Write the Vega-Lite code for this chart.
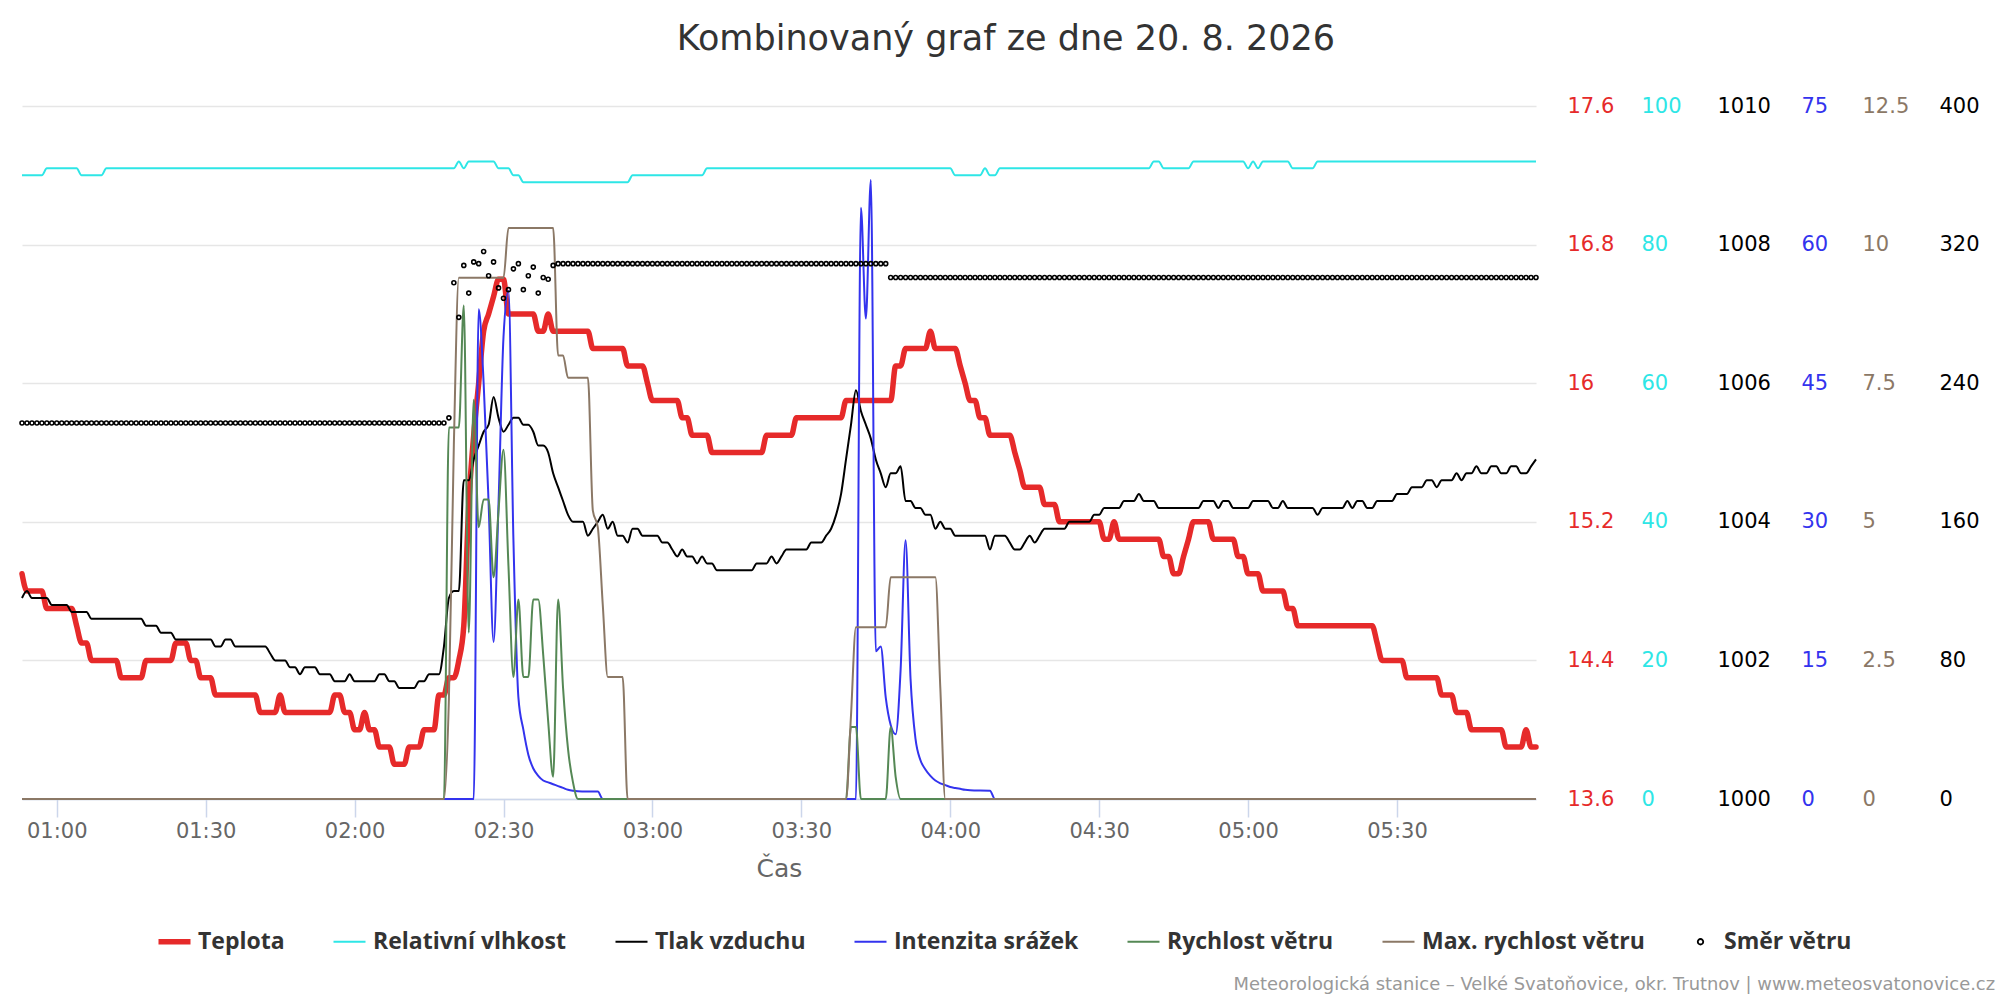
{
  "$schema": "https://vega.github.io/schema/vega-lite/v6.json",
  "background": "white",
  "padding": {"left": 16, "top": 22, "right": 0, "bottom": 0},
  "autosize": {"type": "pad"},
  "config": {
    "view": {"stroke": null},
    "concat": {"spacing": 0},
    "axis": {"labelFont": "DejaVu Sans", "titleFont": "DejaVu Sans"},
    "title": {"font": "DejaVu Sans"}
  },
  "title": {"text": "Kombinovaný graf ze dne 20. 8. 2026", "fontSize": 35, "fontWeight": "normal", "color": "#333333", "anchor": "middle", "frame": "bounds", "offset": 38},
  "vconcat": [
    {
      "width": 1514,
      "height": 693,
      "title": {"text": "Meteorologická stanice – Velké Svatoňovice, okr. Trutnov | www.meteosvatonovice.cz", "orient": "bottom", "anchor": "end", "frame": "bounds", "fontSize": 17.9, "fontWeight": "normal", "color": "#999999", "offset": 95, "dx": 16},
      "resolve": {"scale": {"y": "independent"}, "axis": {"y": "independent"}},
      "encoding": {
        "x": {
          "field": "m", "type": "quantitative", "title": "Čas",
          "scale": {"domain": [53, 358], "nice": false, "zero": false},
          "axis": {"values": [60, 90, 120, 150, 180, 210, 240, 270, 300, 330], "labelExpr": "utcFormat(datum.value * 60000, '%H:%M')", "grid": false,
            "labelFontSize": 21, "labelColor": "#666666", "labelPadding": 3, "labelFlush": false, "labelOverlap": false,
            "domainColor": "#ccd6eb", "domainWidth": 1.5, "tickColor": "#ccd6eb", "tickWidth": 1.5, "tickSize": 18,
            "titleFontSize": 25, "titleFontWeight": "normal", "titleColor": "#666666", "titlePadding": 15}
        }
      },
      "layer": [
        {
          "data": {"values": [
            {"m":53,"v":14.9},{"m":54,"v":14.8},{"m":57,"v":14.8},{"m":58,"v":14.7},{"m":63,"v":14.7},{"m":64,"v":14.6},{"m":65,"v":14.5},{"m":66,"v":14.5},{"m":67,"v":14.4},{"m":72,"v":14.4},{"m":73,"v":14.3},{"m":77,"v":14.3},{"m":78,"v":14.4},{"m":83,"v":14.4},{"m":84,"v":14.5},{"m":86,"v":14.5},{"m":87,"v":14.4},{"m":88,"v":14.4},{"m":89,"v":14.3},{"m":91,"v":14.3},{"m":92,"v":14.2},{"m":100,"v":14.2},{"m":101,"v":14.1},{"m":104,"v":14.1},{"m":105,"v":14.2},{"m":106,"v":14.1},{"m":115,"v":14.1},{"m":116,"v":14.2},{"m":117,"v":14.2},{"m":118,"v":14.1},{"m":119,"v":14.1},{"m":120,"v":14.0},{"m":121,"v":14.0},{"m":122,"v":14.1},{"m":123,"v":14.0},{"m":124,"v":14.0},{"m":125,"v":13.9},{"m":127,"v":13.9},{"m":128,"v":13.8},{"m":130,"v":13.8},{"m":131,"v":13.9},{"m":133,"v":13.9},{"m":134,"v":14.0},{"m":136,"v":14.0},{"m":137,"v":14.2},{"m":138,"v":14.2},{"m":139,"v":14.3},{"m":140,"v":14.3},{"m":141,"v":14.4},{"m":142,"v":14.6},{"m":143,"v":15.3},{"m":144,"v":15.7},{"m":145,"v":16.0},{"m":146,"v":16.3},{"m":147,"v":16.4},{"m":148,"v":16.5},{"m":149,"v":16.6},{"m":150,"v":16.6},{"m":151,"v":16.4},{"m":156,"v":16.4},{"m":157,"v":16.3},{"m":158,"v":16.3},{"m":159,"v":16.4},{"m":160,"v":16.3},{"m":167,"v":16.3},{"m":168,"v":16.2},{"m":174,"v":16.2},{"m":175,"v":16.1},{"m":178,"v":16.1},{"m":179,"v":16.0},{"m":180,"v":15.9},{"m":185,"v":15.9},{"m":186,"v":15.8},{"m":187,"v":15.8},{"m":188,"v":15.7},{"m":191,"v":15.7},{"m":192,"v":15.6},{"m":202,"v":15.6},{"m":203,"v":15.7},{"m":208,"v":15.7},{"m":209,"v":15.8},{"m":218,"v":15.8},{"m":219,"v":15.9},{"m":228,"v":15.9},{"m":229,"v":16.1},{"m":230,"v":16.1},{"m":231,"v":16.2},{"m":235,"v":16.2},{"m":236,"v":16.3},{"m":237,"v":16.2},{"m":241,"v":16.2},{"m":242,"v":16.1},{"m":243,"v":16.0},{"m":244,"v":15.9},{"m":245,"v":15.9},{"m":246,"v":15.8},{"m":247,"v":15.8},{"m":248,"v":15.7},{"m":252,"v":15.7},{"m":253,"v":15.6},{"m":254,"v":15.5},{"m":255,"v":15.4},{"m":258,"v":15.4},{"m":259,"v":15.3},{"m":261,"v":15.3},{"m":262,"v":15.2},{"m":270,"v":15.2},{"m":271,"v":15.1},{"m":272,"v":15.1},{"m":273,"v":15.2},{"m":274,"v":15.1},{"m":282,"v":15.1},{"m":283,"v":15.0},{"m":284,"v":15.0},{"m":285,"v":14.9},{"m":286,"v":14.9},{"m":287,"v":15.0},{"m":288,"v":15.1},{"m":289,"v":15.2},{"m":292,"v":15.2},{"m":293,"v":15.1},{"m":297,"v":15.1},{"m":298,"v":15.0},{"m":299,"v":15.0},{"m":300,"v":14.9},{"m":302,"v":14.9},{"m":303,"v":14.8},{"m":307,"v":14.8},{"m":308,"v":14.7},{"m":309,"v":14.7},{"m":310,"v":14.6},{"m":325,"v":14.6},{"m":326,"v":14.5},{"m":327,"v":14.4},{"m":331,"v":14.4},{"m":332,"v":14.3},{"m":338,"v":14.3},{"m":339,"v":14.2},{"m":341,"v":14.2},{"m":342,"v":14.1},{"m":344,"v":14.1},{"m":345,"v":14.0},{"m":351,"v":14.0},{"m":352,"v":13.9},{"m":355,"v":13.9},{"m":356,"v":14.0},{"m":357,"v":13.9},{"m":358,"v":13.9}
          ]},
          "mark": {"type": "line", "interpolate": "monotone", "strokeWidth": 5.5, "strokeJoin": "round", "strokeCap": "round"},
          "encoding": {
            "y": {"field": "v", "type": "quantitative", "scale": {"domain": [13.6, 17.6], "nice": false, "zero": false},
              "axis": {"orient": "right", "offset": 31, "values": [13.6, 14.4, 15.2, 16, 16.8, 17.6], "labelExpr": "'' + datum.value", "title": null,
                "domain": false, "ticks": false, "tickSize": 0, "labelPadding": 0, "labelAlign": "left", "labelBaseline": "middle",
                "labelFontSize": 21, "labelColor": "#e62a2a", "labelOverlap": false, "labelFlush": false,
                "grid": true, "gridColor": "#e6e6e6", "gridWidth": 1.5}},
            "color": {"datum": "Teplota", "type": "nominal",
              "scale": {"domain": ["Teplota", "Relativní vlhkost", "Tlak vzduchu", "Intenzita srážek", "Rychlost větru", "Max. rychlost větru", "Směr větru"],
                        "range": ["#e62a2a", "#2ee6e6", "#000000", "#3333ee", "#558855", "#8b7866", "#000000"]},
              "legend": {"orient": "none", "legendX": 141, "legendY": 824, "direction": "horizontal", "title": null, "padding": 0,
                "symbolType": "stroke", "symbolSize": 1024, "symbolStrokeWidth": 2, "labelOffset": 12, "columnPadding": 44,
                "labelFont": "Open Sans", "labelFontWeight": "bold", "labelFontSize": 23, "labelColor": "#333333", "labelLimit": 500,
                "encode": {"symbols": {"update": {
                  "shape": {"signal": "datum.value === 'Směr větru' ? 'circle' : 'stroke'"},
                  "size": {"signal": "datum.value === 'Směr větru' ? 30 : 1024"},
                  "strokeWidth": {"signal": "datum.value === 'Teplota' ? 5.5 : (datum.value === 'Směr větru' ? 1.8 : 2)"},
                  "fill": {"signal": "datum.value === 'Směr větru' ? '#ffffff' : 'transparent'"}
                }}}}}
          }
        },
        {
          "data": {"values": [
            {"m":53,"v":90},{"m":57,"v":90},{"m":58,"v":91},{"m":64,"v":91},{"m":65,"v":90},{"m":69,"v":90},{"m":70,"v":91},{"m":140,"v":91},{"m":141,"v":92},{"m":142,"v":91},{"m":143,"v":92},{"m":148,"v":92},{"m":149,"v":91},{"m":151,"v":91},{"m":152,"v":90},{"m":153,"v":90},{"m":154,"v":89},{"m":175,"v":89},{"m":176,"v":90},{"m":190,"v":90},{"m":191,"v":91},{"m":240,"v":91},{"m":241,"v":90},{"m":246,"v":90},{"m":247,"v":91},{"m":248,"v":90},{"m":249,"v":90},{"m":250,"v":91},{"m":280,"v":91},{"m":281,"v":92},{"m":282,"v":92},{"m":283,"v":91},{"m":288,"v":91},{"m":289,"v":92},{"m":299,"v":92},{"m":300,"v":91},{"m":301,"v":92},{"m":302,"v":91},{"m":303,"v":92},{"m":308,"v":92},{"m":309,"v":91},{"m":313,"v":91},{"m":314,"v":92},{"m":358,"v":92}
          ]},
          "mark": {"type": "line", "interpolate": "monotone", "strokeWidth": 2, "strokeJoin": "round"},
          "encoding": {
            "y": {"field": "v", "type": "quantitative", "scale": {"domain": [0, 100], "nice": false, "zero": false},
              "axis": {"orient": "right", "offset": 105, "values": [0, 20, 40, 60, 80, 100], "labelExpr": "'' + datum.value", "title": null,
                "domain": false, "ticks": false, "tickSize": 0, "labelPadding": 0, "labelAlign": "left", "labelBaseline": "middle",
                "labelFontSize": 21, "labelColor": "#2ee6e6", "labelOverlap": false, "labelFlush": false, "grid": false}},
            "color": {"datum": "Relativní vlhkost", "type": "nominal",
              "scale": {"domain": ["Teplota", "Relativní vlhkost", "Tlak vzduchu", "Intenzita srážek", "Rychlost větru", "Max. rychlost větru", "Směr větru"],
                        "range": ["#e62a2a", "#2ee6e6", "#000000", "#3333ee", "#558855", "#8b7866", "#000000"]}}
          }
        },
        {
          "data": {"values": [
            {"m":53,"v":1002.9},{"m":54,"v":1003.0},{"m":55,"v":1002.9},{"m":58,"v":1002.9},{"m":59,"v":1002.8},{"m":62,"v":1002.8},{"m":63,"v":1002.7},{"m":66,"v":1002.7},{"m":67,"v":1002.6},{"m":77,"v":1002.6},{"m":78,"v":1002.5},{"m":80,"v":1002.5},{"m":81,"v":1002.4},{"m":83,"v":1002.4},{"m":84,"v":1002.3},{"m":91,"v":1002.3},{"m":92,"v":1002.2},{"m":93,"v":1002.2},{"m":94,"v":1002.3},{"m":95,"v":1002.3},{"m":96,"v":1002.2},{"m":102,"v":1002.2},{"m":103,"v":1002.1},{"m":104,"v":1002.0},{"m":106,"v":1002.0},{"m":107,"v":1001.9},{"m":108,"v":1001.9},{"m":109,"v":1001.8},{"m":110,"v":1001.9},{"m":112,"v":1001.9},{"m":113,"v":1001.8},{"m":115,"v":1001.8},{"m":116,"v":1001.7},{"m":118,"v":1001.7},{"m":119,"v":1001.8},{"m":120,"v":1001.7},{"m":124,"v":1001.7},{"m":125,"v":1001.8},{"m":126,"v":1001.8},{"m":127,"v":1001.7},{"m":128,"v":1001.7},{"m":129,"v":1001.6},{"m":132,"v":1001.6},{"m":133,"v":1001.7},{"m":134,"v":1001.7},{"m":135,"v":1001.8},{"m":137,"v":1001.8},{"m":138,"v":1002.2},{"m":139,"v":1002.9},{"m":140,"v":1003.0},{"m":141,"v":1003.0},{"m":142,"v":1004.6},{"m":143,"v":1004.6},{"m":144,"v":1004.9},{"m":145,"v":1005.1},{"m":146,"v":1005.3},{"m":147,"v":1005.4},{"m":148,"v":1005.8},{"m":149,"v":1005.5},{"m":150,"v":1005.3},{"m":151,"v":1005.4},{"m":152,"v":1005.5},{"m":153,"v":1005.5},{"m":154,"v":1005.4},{"m":155,"v":1005.4},{"m":156,"v":1005.3},{"m":157,"v":1005.1},{"m":158,"v":1005.1},{"m":159,"v":1005.0},{"m":160,"v":1004.7},{"m":161,"v":1004.5},{"m":162,"v":1004.3},{"m":163,"v":1004.1},{"m":164,"v":1004.0},{"m":166,"v":1004.0},{"m":167,"v":1003.8},{"m":168,"v":1003.9},{"m":169,"v":1004.0},{"m":170,"v":1004.1},{"m":171,"v":1003.9},{"m":172,"v":1004.0},{"m":173,"v":1003.8},{"m":174,"v":1003.8},{"m":175,"v":1003.7},{"m":176,"v":1003.9},{"m":177,"v":1003.9},{"m":178,"v":1003.8},{"m":181,"v":1003.8},{"m":182,"v":1003.7},{"m":183,"v":1003.7},{"m":184,"v":1003.6},{"m":185,"v":1003.5},{"m":186,"v":1003.6},{"m":187,"v":1003.5},{"m":188,"v":1003.5},{"m":189,"v":1003.4},{"m":190,"v":1003.5},{"m":191,"v":1003.4},{"m":192,"v":1003.4},{"m":193,"v":1003.3},{"m":200,"v":1003.3},{"m":201,"v":1003.4},{"m":203,"v":1003.4},{"m":204,"v":1003.5},{"m":205,"v":1003.4},{"m":206,"v":1003.5},{"m":207,"v":1003.6},{"m":211,"v":1003.6},{"m":212,"v":1003.7},{"m":214,"v":1003.7},{"m":215,"v":1003.8},{"m":216,"v":1003.9},{"m":217,"v":1004.1},{"m":218,"v":1004.4},{"m":219,"v":1004.9},{"m":220,"v":1005.4},{"m":221,"v":1005.9},{"m":222,"v":1005.6},{"m":223,"v":1005.4},{"m":224,"v":1005.2},{"m":225,"v":1004.9},{"m":226,"v":1004.7},{"m":227,"v":1004.5},{"m":228,"v":1004.7},{"m":229,"v":1004.7},{"m":230,"v":1004.8},{"m":231,"v":1004.3},{"m":232,"v":1004.3},{"m":233,"v":1004.2},{"m":234,"v":1004.2},{"m":235,"v":1004.1},{"m":236,"v":1004.1},{"m":237,"v":1003.9},{"m":238,"v":1004.0},{"m":239,"v":1003.9},{"m":240,"v":1003.9},{"m":241,"v":1003.8},{"m":247,"v":1003.8},{"m":248,"v":1003.6},{"m":249,"v":1003.8},{"m":251,"v":1003.8},{"m":252,"v":1003.7},{"m":253,"v":1003.6},{"m":254,"v":1003.6},{"m":255,"v":1003.7},{"m":256,"v":1003.8},{"m":257,"v":1003.7},{"m":258,"v":1003.8},{"m":259,"v":1003.9},{"m":263,"v":1003.9},{"m":264,"v":1004.0},{"m":268,"v":1004.0},{"m":269,"v":1004.1},{"m":270,"v":1004.1},{"m":271,"v":1004.2},{"m":274,"v":1004.2},{"m":275,"v":1004.3},{"m":277,"v":1004.3},{"m":278,"v":1004.4},{"m":279,"v":1004.3},{"m":281,"v":1004.3},{"m":282,"v":1004.2},{"m":290,"v":1004.2},{"m":291,"v":1004.3},{"m":293,"v":1004.3},{"m":294,"v":1004.2},{"m":295,"v":1004.3},{"m":296,"v":1004.3},{"m":297,"v":1004.2},{"m":300,"v":1004.2},{"m":301,"v":1004.3},{"m":304,"v":1004.3},{"m":305,"v":1004.2},{"m":306,"v":1004.2},{"m":307,"v":1004.3},{"m":308,"v":1004.2},{"m":313,"v":1004.2},{"m":314,"v":1004.1},{"m":315,"v":1004.2},{"m":319,"v":1004.2},{"m":320,"v":1004.3},{"m":321,"v":1004.2},{"m":322,"v":1004.3},{"m":323,"v":1004.3},{"m":324,"v":1004.2},{"m":325,"v":1004.2},{"m":326,"v":1004.3},{"m":329,"v":1004.3},{"m":330,"v":1004.4},{"m":332,"v":1004.4},{"m":333,"v":1004.5},{"m":335,"v":1004.5},{"m":336,"v":1004.6},{"m":337,"v":1004.6},{"m":338,"v":1004.5},{"m":339,"v":1004.6},{"m":341,"v":1004.6},{"m":342,"v":1004.7},{"m":343,"v":1004.6},{"m":344,"v":1004.7},{"m":345,"v":1004.7},{"m":346,"v":1004.8},{"m":347,"v":1004.7},{"m":348,"v":1004.7},{"m":349,"v":1004.8},{"m":350,"v":1004.8},{"m":351,"v":1004.7},{"m":352,"v":1004.7},{"m":353,"v":1004.8},{"m":354,"v":1004.8},{"m":355,"v":1004.7},{"m":356,"v":1004.7},{"m":357,"v":1004.8},{"m":358,"v":1004.9}
          ]},
          "mark": {"type": "line", "interpolate": "monotone", "strokeWidth": 2, "strokeJoin": "round"},
          "encoding": {
            "y": {"field": "v", "type": "quantitative", "scale": {"domain": [1000, 1010], "nice": false, "zero": false},
              "axis": {"orient": "right", "offset": 181, "values": [1000, 1002, 1004, 1006, 1008, 1010], "labelExpr": "'' + datum.value", "title": null,
                "domain": false, "ticks": false, "tickSize": 0, "labelPadding": 0, "labelAlign": "left", "labelBaseline": "middle",
                "labelFontSize": 21, "labelColor": "#000000", "labelOverlap": false, "labelFlush": false, "grid": false}},
            "color": {"datum": "Tlak vzduchu", "type": "nominal",
              "scale": {"domain": ["Teplota", "Relativní vlhkost", "Tlak vzduchu", "Intenzita srážek", "Rychlost větru", "Max. rychlost větru", "Směr větru"],
                        "range": ["#e62a2a", "#2ee6e6", "#000000", "#3333ee", "#558855", "#8b7866", "#000000"]}}
          }
        },
        {
          "data": {"values": [
            {"m":53,"v":0},{"m":144,"v":0},{"m":145,"v":53},{"m":146,"v":45},{"m":147,"v":32},{"m":148,"v":17},{"m":149,"v":32},{"m":150,"v":50},{"m":151,"v":55},{"m":152,"v":28},{"m":153,"v":11},{"m":154,"v":7.5},{"m":155,"v":4.8},{"m":156,"v":3.3},{"m":157,"v":2.5},{"m":158,"v":2.0},{"m":159,"v":1.8},{"m":160,"v":1.6},{"m":161,"v":1.4},{"m":162,"v":1.2},{"m":163,"v":1.0},{"m":164,"v":0.9},{"m":165,"v":0.85},{"m":169,"v":0.8},{"m":170,"v":0},{"m":221,"v":0},{"m":222,"v":64},{"m":223,"v":52},{"m":224,"v":67},{"m":225,"v":16},{"m":226,"v":16.5},{"m":227,"v":11},{"m":228,"v":8},{"m":229,"v":7},{"m":230,"v":14},{"m":231,"v":28},{"m":232,"v":13},{"m":233,"v":6.5},{"m":234,"v":4.2},{"m":235,"v":3.2},{"m":236,"v":2.5},{"m":237,"v":2.0},{"m":238,"v":1.7},{"m":239,"v":1.5},{"m":240,"v":1.3},{"m":241,"v":1.2},{"m":242,"v":1.1},{"m":243,"v":1.0},{"m":244,"v":0.95},{"m":248,"v":0.9},{"m":249,"v":0},{"m":358,"v":0}
          ]},
          "mark": {"type": "line", "interpolate": "monotone", "strokeWidth": 2, "strokeJoin": "round"},
          "encoding": {
            "y": {"field": "v", "type": "quantitative", "scale": {"domain": [0, 75], "nice": false, "zero": false},
              "axis": {"orient": "right", "offset": 265, "values": [0, 15, 30, 45, 60, 75], "labelExpr": "'' + datum.value", "title": null,
                "domain": false, "ticks": false, "tickSize": 0, "labelPadding": 0, "labelAlign": "left", "labelBaseline": "middle",
                "labelFontSize": 21, "labelColor": "#3333ee", "labelOverlap": false, "labelFlush": false, "grid": false}},
            "color": {"datum": "Intenzita srážek", "type": "nominal",
              "scale": {"domain": ["Teplota", "Relativní vlhkost", "Tlak vzduchu", "Intenzita srážek", "Rychlost větru", "Max. rychlost větru", "Směr větru"],
                        "range": ["#e62a2a", "#2ee6e6", "#000000", "#3333ee", "#558855", "#8b7866", "#000000"]}}
          }
        },
        {
          "data": {"values": [
            {"m":53,"v":0},{"m":138,"v":0},{"m":139,"v":6.7},{"m":141,"v":6.7},{"m":142,"v":8.9},{"m":143,"v":3.0},{"m":144,"v":7.2},{"m":145,"v":4.9},{"m":146,"v":5.4},{"m":147,"v":5.4},{"m":148,"v":4.0},{"m":149,"v":5.2},{"m":150,"v":6.3},{"m":151,"v":4.2},{"m":152,"v":2.2},{"m":153,"v":3.6},{"m":154,"v":2.2},{"m":155,"v":2.2},{"m":156,"v":3.6},{"m":157,"v":3.6},{"m":158,"v":2.6},{"m":159,"v":1.4},{"m":160,"v":0.4},{"m":161,"v":3.6},{"m":162,"v":2.0},{"m":163,"v":0.9},{"m":164,"v":0.3},{"m":165,"v":0},{"m":219,"v":0},{"m":220,"v":1.3},{"m":221,"v":1.3},{"m":222,"v":0},{"m":227,"v":0},{"m":228,"v":1.3},{"m":229,"v":0.4},{"m":230,"v":0},{"m":358,"v":0}
          ]},
          "mark": {"type": "line", "interpolate": "monotone", "strokeWidth": 2, "strokeJoin": "round"},
          "encoding": {
            "y": {"field": "v", "type": "quantitative", "scale": {"domain": [0, 12.5], "nice": false, "zero": false}, "axis": null},
            "color": {"datum": "Rychlost větru", "type": "nominal",
              "scale": {"domain": ["Teplota", "Relativní vlhkost", "Tlak vzduchu", "Intenzita srážek", "Rychlost větru", "Max. rychlost větru", "Směr větru"],
                        "range": ["#e62a2a", "#2ee6e6", "#000000", "#3333ee", "#558855", "#8b7866", "#000000"]}}
          }
        },
        {
          "data": {"values": [
            {"m":53,"v":0},{"m":138,"v":0},{"m":139,"v":1.8},{"m":140,"v":6.4},{"m":141,"v":9.4},{"m":150,"v":9.4},{"m":151,"v":10.3},{"m":160,"v":10.3},{"m":161,"v":8.0},{"m":162,"v":8.0},{"m":163,"v":7.6},{"m":167,"v":7.6},{"m":168,"v":5.2},{"m":169,"v":4.9},{"m":170,"v":3.5},{"m":171,"v":2.2},{"m":174,"v":2.2},{"m":175,"v":0},{"m":219,"v":0},{"m":220,"v":1.5},{"m":221,"v":3.1},{"m":227,"v":3.1},{"m":228,"v":4.0},{"m":237,"v":4.0},{"m":238,"v":2.0},{"m":239,"v":0},{"m":358,"v":0}
          ]},
          "mark": {"type": "line", "interpolate": "monotone", "strokeWidth": 2, "strokeJoin": "round"},
          "encoding": {
            "y": {"field": "v", "type": "quantitative", "scale": {"domain": [0, 12.5], "nice": false, "zero": false},
              "axis": {"orient": "right", "offset": 326, "values": [0, 2.5, 5, 7.5, 10, 12.5], "labelExpr": "'' + datum.value", "title": null,
                "domain": false, "ticks": false, "tickSize": 0, "labelPadding": 0, "labelAlign": "left", "labelBaseline": "middle",
                "labelFontSize": 21, "labelColor": "#8b7866", "labelOverlap": false, "labelFlush": false, "grid": false}},
            "color": {"datum": "Max. rychlost větru", "type": "nominal",
              "scale": {"domain": ["Teplota", "Relativní vlhkost", "Tlak vzduchu", "Intenzita srážek", "Rychlost větru", "Max. rychlost větru", "Směr větru"],
                        "range": ["#e62a2a", "#2ee6e6", "#000000", "#3333ee", "#558855", "#8b7866", "#000000"]}}
          }
        },
        {
          "data": {"values": [
            {"m":53,"d":217},{"m":54,"d":217},{"m":55,"d":217},{"m":56,"d":217},{"m":57,"d":217},{"m":58,"d":217},{"m":59,"d":217},
            {"m":60,"d":217},{"m":61,"d":217},{"m":62,"d":217},{"m":63,"d":217},{"m":64,"d":217},{"m":65,"d":217},{"m":66,"d":217},{"m":67,"d":217},{"m":68,"d":217},{"m":69,"d":217},
            {"m":70,"d":217},{"m":71,"d":217},{"m":72,"d":217},{"m":73,"d":217},{"m":74,"d":217},{"m":75,"d":217},{"m":76,"d":217},{"m":77,"d":217},{"m":78,"d":217},{"m":79,"d":217},
            {"m":80,"d":217},{"m":81,"d":217},{"m":82,"d":217},{"m":83,"d":217},{"m":84,"d":217},{"m":85,"d":217},{"m":86,"d":217},{"m":87,"d":217},{"m":88,"d":217},{"m":89,"d":217},
            {"m":90,"d":217},{"m":91,"d":217},{"m":92,"d":217},{"m":93,"d":217},{"m":94,"d":217},{"m":95,"d":217},{"m":96,"d":217},{"m":97,"d":217},{"m":98,"d":217},{"m":99,"d":217},
            {"m":100,"d":217},{"m":101,"d":217},{"m":102,"d":217},{"m":103,"d":217},{"m":104,"d":217},{"m":105,"d":217},{"m":106,"d":217},{"m":107,"d":217},{"m":108,"d":217},{"m":109,"d":217},
            {"m":110,"d":217},{"m":111,"d":217},{"m":112,"d":217},{"m":113,"d":217},{"m":114,"d":217},{"m":115,"d":217},{"m":116,"d":217},{"m":117,"d":217},{"m":118,"d":217},{"m":119,"d":217},
            {"m":120,"d":217},{"m":121,"d":217},{"m":122,"d":217},{"m":123,"d":217},{"m":124,"d":217},{"m":125,"d":217},{"m":126,"d":217},{"m":127,"d":217},{"m":128,"d":217},{"m":129,"d":217},
            {"m":130,"d":217},{"m":131,"d":217},{"m":132,"d":217},{"m":133,"d":217},{"m":134,"d":217},{"m":135,"d":217},{"m":136,"d":217},{"m":137,"d":217},{"m":138,"d":217},
            {"m":139,"d":220},{"m":140,"d":298},{"m":141,"d":278},{"m":142,"d":308},{"m":143,"d":292},{"m":144,"d":310},{"m":145,"d":309},{"m":146,"d":316},{"m":147,"d":302},{"m":148,"d":310},{"m":149,"d":295},
            {"m":150,"d":289},{"m":151,"d":294},{"m":152,"d":306},{"m":153,"d":309},{"m":154,"d":294},{"m":155,"d":302},{"m":156,"d":307},{"m":157,"d":292},{"m":158,"d":301},{"m":159,"d":300},{"m":160,"d":308},
            {"m":161,"d":309},{"m":162,"d":309},{"m":163,"d":309},{"m":164,"d":309},{"m":165,"d":309},{"m":166,"d":309},{"m":167,"d":309},{"m":168,"d":309},{"m":169,"d":309},
            {"m":170,"d":309},{"m":171,"d":309},{"m":172,"d":309},{"m":173,"d":309},{"m":174,"d":309},{"m":175,"d":309},{"m":176,"d":309},{"m":177,"d":309},{"m":178,"d":309},{"m":179,"d":309},
            {"m":180,"d":309},{"m":181,"d":309},{"m":182,"d":309},{"m":183,"d":309},{"m":184,"d":309},{"m":185,"d":309},{"m":186,"d":309},{"m":187,"d":309},{"m":188,"d":309},{"m":189,"d":309},
            {"m":190,"d":309},{"m":191,"d":309},{"m":192,"d":309},{"m":193,"d":309},{"m":194,"d":309},{"m":195,"d":309},{"m":196,"d":309},{"m":197,"d":309},{"m":198,"d":309},{"m":199,"d":309},
            {"m":200,"d":309},{"m":201,"d":309},{"m":202,"d":309},{"m":203,"d":309},{"m":204,"d":309},{"m":205,"d":309},{"m":206,"d":309},{"m":207,"d":309},{"m":208,"d":309},{"m":209,"d":309},
            {"m":210,"d":309},{"m":211,"d":309},{"m":212,"d":309},{"m":213,"d":309},{"m":214,"d":309},{"m":215,"d":309},{"m":216,"d":309},{"m":217,"d":309},{"m":218,"d":309},{"m":219,"d":309},
            {"m":220,"d":309},{"m":221,"d":309},{"m":222,"d":309},{"m":223,"d":309},{"m":224,"d":309},{"m":225,"d":309},{"m":226,"d":309},{"m":227,"d":309},
            {"m":228,"d":301},{"m":229,"d":301},{"m":230,"d":301},{"m":231,"d":301},{"m":232,"d":301},{"m":233,"d":301},{"m":234,"d":301},{"m":235,"d":301},{"m":236,"d":301},{"m":237,"d":301},{"m":238,"d":301},{"m":239,"d":301},
            {"m":240,"d":301},{"m":241,"d":301},{"m":242,"d":301},{"m":243,"d":301},{"m":244,"d":301},{"m":245,"d":301},{"m":246,"d":301},{"m":247,"d":301},{"m":248,"d":301},{"m":249,"d":301},
            {"m":250,"d":301},{"m":251,"d":301},{"m":252,"d":301},{"m":253,"d":301},{"m":254,"d":301},{"m":255,"d":301},{"m":256,"d":301},{"m":257,"d":301},{"m":258,"d":301},{"m":259,"d":301},
            {"m":260,"d":301},{"m":261,"d":301},{"m":262,"d":301},{"m":263,"d":301},{"m":264,"d":301},{"m":265,"d":301},{"m":266,"d":301},{"m":267,"d":301},{"m":268,"d":301},{"m":269,"d":301},
            {"m":270,"d":301},{"m":271,"d":301},{"m":272,"d":301},{"m":273,"d":301},{"m":274,"d":301},{"m":275,"d":301},{"m":276,"d":301},{"m":277,"d":301},{"m":278,"d":301},{"m":279,"d":301},
            {"m":280,"d":301},{"m":281,"d":301},{"m":282,"d":301},{"m":283,"d":301},{"m":284,"d":301},{"m":285,"d":301},{"m":286,"d":301},{"m":287,"d":301},{"m":288,"d":301},{"m":289,"d":301},
            {"m":290,"d":301},{"m":291,"d":301},{"m":292,"d":301},{"m":293,"d":301},{"m":294,"d":301},{"m":295,"d":301},{"m":296,"d":301},{"m":297,"d":301},{"m":298,"d":301},{"m":299,"d":301},
            {"m":300,"d":301},{"m":301,"d":301},{"m":302,"d":301},{"m":303,"d":301},{"m":304,"d":301},{"m":305,"d":301},{"m":306,"d":301},{"m":307,"d":301},{"m":308,"d":301},{"m":309,"d":301},
            {"m":310,"d":301},{"m":311,"d":301},{"m":312,"d":301},{"m":313,"d":301},{"m":314,"d":301},{"m":315,"d":301},{"m":316,"d":301},{"m":317,"d":301},{"m":318,"d":301},{"m":319,"d":301},
            {"m":320,"d":301},{"m":321,"d":301},{"m":322,"d":301},{"m":323,"d":301},{"m":324,"d":301},{"m":325,"d":301},{"m":326,"d":301},{"m":327,"d":301},{"m":328,"d":301},{"m":329,"d":301},
            {"m":330,"d":301},{"m":331,"d":301},{"m":332,"d":301},{"m":333,"d":301},{"m":334,"d":301},{"m":335,"d":301},{"m":336,"d":301},{"m":337,"d":301},{"m":338,"d":301},{"m":339,"d":301},
            {"m":340,"d":301},{"m":341,"d":301},{"m":342,"d":301},{"m":343,"d":301},{"m":344,"d":301},{"m":345,"d":301},{"m":346,"d":301},{"m":347,"d":301},{"m":348,"d":301},{"m":349,"d":301},
            {"m":350,"d":301},{"m":351,"d":301},{"m":352,"d":301},{"m":353,"d":301},{"m":354,"d":301},{"m":355,"d":301},{"m":356,"d":301},{"m":357,"d":301},{"m":358,"d":301}
          ]},
          "mark": {"type": "point", "shape": "circle", "filled": false, "size": 16, "strokeWidth": 1.6, "opacity": 1},
          "encoding": {
            "y": {"field": "d", "type": "quantitative", "scale": {"domain": [0, 400], "nice": false, "zero": false},
              "axis": {"orient": "right", "offset": 403, "values": [0, 80, 160, 240, 320, 400], "labelExpr": "'' + datum.value", "title": null,
                "domain": false, "ticks": false, "tickSize": 0, "labelPadding": 0, "labelAlign": "left", "labelBaseline": "middle",
                "labelFontSize": 21, "labelColor": "#000000", "labelOverlap": false, "labelFlush": false, "grid": false}},
            "color": {"datum": "Směr větru", "type": "nominal",
              "scale": {"domain": ["Teplota", "Relativní vlhkost", "Tlak vzduchu", "Intenzita srážek", "Rychlost větru", "Max. rychlost větru", "Směr větru"],
                        "range": ["#e62a2a", "#2ee6e6", "#000000", "#3333ee", "#558855", "#8b7866", "#000000"]}}
          }
        }
      ]
    }
  ]
}
